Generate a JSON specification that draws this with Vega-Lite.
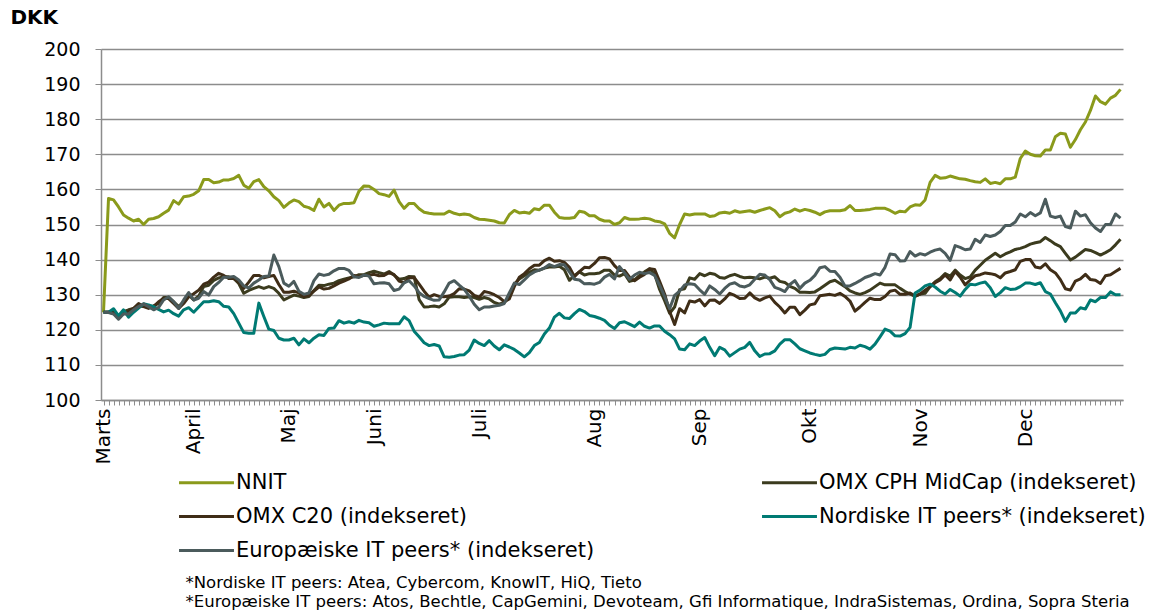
{
"$schema":"https://vega.github.io/schema/vega-lite/v6.json",
"width":1022,"height":351,
"autosize":{"type":"none"},
"padding":{"left":101,"top":49,"right":38,"bottom":212},
"background":"white",
"config":{"view":{"stroke":null},"font":"DejaVu Sans"},
"data":{"values":[
{"i":0,"a":125,"b":125,"c":125,"d":125,"e":125},
{"i":1,"a":157.4,"b":125,"c":125.1,"d":125,"e":124.9},
{"i":2,"a":157,"b":124.7,"c":125.2,"d":126,"e":124.5},
{"i":3,"a":155,"b":124,"c":123.8,"d":124,"e":123},
{"i":4,"a":152.7,"b":125.2,"c":124.7,"d":125.7,"e":124.5},
{"i":5,"a":151.8,"b":125.7,"c":125.2,"d":123.6,"e":124.5},
{"i":6,"a":151,"b":126.1,"c":126.1,"d":125,"e":125.7},
{"i":7,"a":151.5,"b":126.6,"c":127.5,"d":126.2,"e":126.6},
{"i":8,"a":150,"b":126.8,"c":126.6,"d":127.4,"e":127.4},
{"i":9,"a":151.5,"b":126.6,"c":126.1,"d":127.1,"e":126.6},
{"i":10,"a":151.7,"b":126.8,"c":126.6,"d":126.6,"e":125.7},
{"i":11,"a":152.2,"b":127.5,"c":128,"d":125.8,"e":126.4},
{"i":12,"a":153.2,"b":129.2,"c":128.9,"d":125.1,"e":128.5},
{"i":13,"a":154.1,"b":129.2,"c":128.9,"d":125.6,"e":129.4},
{"i":14,"a":156.8,"b":128,"c":127.5,"d":124.6,"e":128},
{"i":15,"a":155.8,"b":126.6,"c":126.1,"d":123.9,"e":126.1},
{"i":16,"a":157.9,"b":128,"c":127.5,"d":125.7,"e":128.5},
{"i":17,"a":158.1,"b":129.9,"c":129.4,"d":126.3,"e":130.6},
{"i":18,"a":158.6,"b":128.5,"c":130.3,"d":125,"e":128.5},
{"i":19,"a":159.6,"b":129.6,"c":131.3,"d":126.5,"e":129},
{"i":20,"a":162.8,"b":132.3,"c":133,"d":128,"e":130.9},
{"i":21,"a":162.8,"b":132.7,"c":133.6,"d":128,"e":129.9},
{"i":22,"a":161.9,"b":134.1,"c":135,"d":128.3,"e":132.3},
{"i":23,"a":162.1,"b":134.8,"c":136.1,"d":128,"e":133.5},
{"i":24,"a":162.7,"b":135.1,"c":135.5,"d":126.7,"e":135},
{"i":25,"a":162.7,"b":135.1,"c":134.6,"d":126.5,"e":135},
{"i":26,"a":163.1,"b":134.6,"c":134.6,"d":124.6,"e":135.2},
{"i":27,"a":164,"b":133.2,"c":133.6,"d":121.9,"e":134.2},
{"i":28,"a":161.2,"b":130.4,"c":131.8,"d":119.2,"e":132.5},
{"i":29,"a":160.3,"b":131.2,"c":133.6,"d":119,"e":131.9},
{"i":30,"a":162.2,"b":131.8,"c":135.5,"d":119,"e":133.3},
{"i":31,"a":162.8,"b":132.3,"c":135.5,"d":127.6,"e":134.2},
{"i":32,"a":160.8,"b":131.8,"c":134.8,"d":123.8,"e":135.2},
{"i":33,"a":159.6,"b":132.3,"c":135.2,"d":120.2,"e":135.3},
{"i":34,"a":157.9,"b":131.8,"c":135.5,"d":119.8,"e":141.3},
{"i":35,"a":156.8,"b":130.4,"c":132.9,"d":117.6,"e":138},
{"i":36,"a":154.9,"b":128.5,"c":130.7,"d":117.1,"e":133.3},
{"i":37,"a":156.1,"b":129.2,"c":130.7,"d":117.1,"e":132.4},
{"i":38,"a":157,"b":129.9,"c":131,"d":117.6,"e":133.8},
{"i":39,"a":156.5,"b":129.6,"c":130.5,"d":115.7,"e":131},
{"i":40,"a":155.2,"b":129.2,"c":129.5,"d":117.4,"e":130.1},
{"i":41,"a":154.8,"b":129.5,"c":129.8,"d":116.3,"e":130.5},
{"i":42,"a":154,"b":131.2,"c":131,"d":117.6,"e":134},
{"i":43,"a":157.2,"b":132.7,"c":132.2,"d":118.6,"e":135.9},
{"i":44,"a":155,"b":132.6,"c":131.6,"d":118.4,"e":135.5},
{"i":45,"a":156,"b":133,"c":131.8,"d":120.4,"e":135.8},
{"i":46,"a":154,"b":133.3,"c":132.5,"d":120.5,"e":136.8},
{"i":47,"a":155.5,"b":134,"c":133.3,"d":122.6,"e":137.5},
{"i":48,"a":156,"b":134.4,"c":133.9,"d":121.9,"e":137.5},
{"i":49,"a":156,"b":134.8,"c":134.5,"d":122.3,"e":136.9},
{"i":50,"a":156.2,"b":135.1,"c":135.5,"d":121.9,"e":135.1},
{"i":51,"a":159.5,"b":135.7,"c":135.2,"d":122.7,"e":134.9},
{"i":52,"a":161,"b":135.7,"c":135.5,"d":122.2,"e":135.6},
{"i":53,"a":160.9,"b":136.3,"c":135.5,"d":122,"e":135.3},
{"i":54,"a":160,"b":136.7,"c":135.8,"d":121,"e":133.1},
{"i":55,"a":158.8,"b":136.3,"c":135.4,"d":121.4,"e":133.3},
{"i":56,"a":158.5,"b":135.9,"c":135.5,"d":121.9,"e":133.4},
{"i":57,"a":158,"b":136.6,"c":136.3,"d":121.7,"e":133.1},
{"i":58,"a":159.8,"b":135.6,"c":135.7,"d":121.7,"e":131.2},
{"i":59,"a":156.5,"b":134.4,"c":133.9,"d":121.7,"e":131.6},
{"i":60,"a":154.6,"b":134.6,"c":133.4,"d":123.7,"e":133.4},
{"i":61,"a":156,"b":135.2,"c":134.8,"d":122.6,"e":134},
{"i":62,"a":156,"b":135.1,"c":134.9,"d":119.6,"e":132.5},
{"i":63,"a":154.5,"b":128.6,"c":133,"d":118,"e":130.6},
{"i":64,"a":153.5,"b":126.5,"c":131,"d":116.3,"e":129.5},
{"i":65,"a":153.2,"b":126.6,"c":129.3,"d":115.5,"e":128.9},
{"i":66,"a":153,"b":126.8,"c":130,"d":115.8,"e":128.4},
{"i":67,"a":153,"b":126.5,"c":129.5,"d":115.4,"e":128.5},
{"i":68,"a":153,"b":127.4,"c":129.4,"d":112.3,"e":130.8},
{"i":69,"a":153.8,"b":129.3,"c":129.6,"d":112.2,"e":133.3},
{"i":70,"a":153.2,"b":129.4,"c":130.3,"d":112.4,"e":134},
{"i":71,"a":152.8,"b":129.4,"c":131.7,"d":112.8,"e":132.7},
{"i":72,"a":153,"b":129.2,"c":131.6,"d":112.9,"e":131.5},
{"i":73,"a":152.8,"b":129.4,"c":131.1,"d":114.2,"e":129.6},
{"i":74,"a":152,"b":129.2,"c":129.8,"d":117.1,"e":127.3},
{"i":75,"a":151.5,"b":128.7,"c":129.3,"d":116.1,"e":125.7},
{"i":76,"a":151.4,"b":129.2,"c":130.9,"d":115.5,"e":126.5},
{"i":77,"a":151.2,"b":128.8,"c":130.6,"d":116.9,"e":126.5},
{"i":78,"a":151,"b":127.8,"c":130,"d":115.4,"e":126.8},
{"i":79,"a":150.5,"b":127.3,"c":129.2,"d":114.3,"e":127},
{"i":80,"a":150.4,"b":127.8,"c":128,"d":115.7,"e":127.5},
{"i":81,"a":152.8,"b":129.4,"c":128.8,"d":115.1,"e":130.5},
{"i":82,"a":154,"b":133,"c":132.3,"d":114.4,"e":133.3},
{"i":83,"a":153.3,"b":134.5,"c":135,"d":113.4,"e":132.9},
{"i":84,"a":153.5,"b":135.4,"c":136,"d":112.3,"e":134.2},
{"i":85,"a":153.2,"b":136.4,"c":137.4,"d":113.5,"e":135.6},
{"i":86,"a":154.5,"b":137.1,"c":138.4,"d":115.5,"e":136.5},
{"i":87,"a":154.2,"b":137,"c":138.4,"d":116.4,"e":137},
{"i":88,"a":155.5,"b":137.6,"c":139.7,"d":118.8,"e":137.6},
{"i":89,"a":155.5,"b":137.9,"c":140.4,"d":120.5,"e":138.6},
{"i":90,"a":153.5,"b":137.9,"c":139.5,"d":123.6,"e":138},
{"i":91,"a":152,"b":138.1,"c":139.7,"d":124.7,"e":138.6},
{"i":92,"a":151.8,"b":137.1,"c":139.2,"d":123.4,"e":138.5},
{"i":93,"a":151.8,"b":134.1,"c":137.8,"d":123.2,"e":136.5},
{"i":94,"a":152,"b":135.5,"c":135.1,"d":124.6,"e":134.4},
{"i":95,"a":153.8,"b":136.5,"c":136.6,"d":125.8,"e":134.2},
{"i":96,"a":153.5,"b":135.6,"c":137.8,"d":125.2,"e":133.1},
{"i":97,"a":152.5,"b":136,"c":137.7,"d":124.1,"e":133.2},
{"i":98,"a":152.5,"b":136,"c":138.9,"d":123.8,"e":133},
{"i":99,"a":151.5,"b":136.2,"c":140.5,"d":123.3,"e":133.5},
{"i":100,"a":151,"b":137,"c":140.6,"d":122.7,"e":135},
{"i":101,"a":151,"b":137,"c":140.2,"d":121.3,"e":135.8},
{"i":102,"a":150,"b":135.6,"c":138.3,"d":120.4,"e":134.5},
{"i":103,"a":150.5,"b":135.3,"c":136.9,"d":122,"e":138},
{"i":104,"a":152,"b":136,"c":136.9,"d":122.3,"e":136.2},
{"i":105,"a":151.5,"b":133.8,"c":135,"d":121.6,"e":134.4},
{"i":106,"a":151.5,"b":134.2,"c":134,"d":120.9,"e":135.6},
{"i":107,"a":151.6,"b":135.5,"c":135,"d":122.2,"e":136.4},
{"i":108,"a":151.8,"b":136.5,"c":135.8,"d":121,"e":136},
{"i":109,"a":151.6,"b":137.4,"c":137.4,"d":120.5,"e":136.3},
{"i":110,"a":151,"b":135.9,"c":137.2,"d":121.1,"e":135.5},
{"i":111,"a":150.8,"b":131.5,"c":133.8,"d":121.1,"e":132.7},
{"i":112,"a":150.2,"b":128.3,"c":130.2,"d":119.6,"e":129.5},
{"i":113,"a":147.5,"b":124.7,"c":125.2,"d":118.6,"e":126},
{"i":114,"a":146.2,"b":126.5,"c":121.5,"d":117.4,"e":129.8},
{"i":115,"a":150,"b":131.4,"c":126,"d":114.5,"e":131},
{"i":116,"a":153,"b":131.7,"c":124.8,"d":114.3,"e":132.8},
{"i":117,"a":152.7,"b":134.8,"c":128.2,"d":116,"e":133.1},
{"i":118,"a":153,"b":134.4,"c":127.9,"d":115.5,"e":132.9},
{"i":119,"a":153,"b":136,"c":128.6,"d":116.8,"e":131.4},
{"i":120,"a":153,"b":135.4,"c":126.8,"d":117.8,"e":130.1},
{"i":121,"a":152.3,"b":136.1,"c":128.4,"d":115,"e":132.5},
{"i":122,"a":152.5,"b":135.8,"c":128.5,"d":112.6,"e":131.5},
{"i":123,"a":153.3,"b":134.9,"c":127.5,"d":115,"e":130.2},
{"i":124,"a":153.5,"b":134.7,"c":128.8,"d":114.3,"e":131.8},
{"i":125,"a":153.2,"b":135.4,"c":130.4,"d":112.5,"e":133},
{"i":126,"a":153.9,"b":135.8,"c":129.8,"d":113.5,"e":133.4},
{"i":127,"a":153.5,"b":135.2,"c":128.9,"d":114.5,"e":132.5},
{"i":128,"a":153.7,"b":134.8,"c":129,"d":115,"e":132.2},
{"i":129,"a":153.9,"b":135,"c":130.5,"d":116.4,"e":132.8},
{"i":130,"a":153.5,"b":134.8,"c":129.1,"d":114,"e":134.4},
{"i":131,"a":154,"b":134.5,"c":128.4,"d":112.4,"e":135.8},
{"i":132,"a":154.4,"b":135,"c":129.1,"d":113.1,"e":135.6},
{"i":133,"a":154.8,"b":134.7,"c":129.6,"d":113.2,"e":134.3},
{"i":134,"a":153.9,"b":135.1,"c":127.8,"d":114,"e":132.1},
{"i":135,"a":152.2,"b":133.8,"c":126.5,"d":115.9,"e":131.6},
{"i":136,"a":153.2,"b":133.5,"c":124.8,"d":117.2,"e":130.9},
{"i":137,"a":153.6,"b":132.4,"c":126.4,"d":117.2,"e":132.9},
{"i":138,"a":154.4,"b":131.8,"c":126.4,"d":116,"e":134},
{"i":139,"a":153.8,"b":130.7,"c":124.3,"d":114.6,"e":131.8},
{"i":140,"a":154.3,"b":130.7,"c":125.6,"d":114,"e":133.3},
{"i":141,"a":154,"b":130.6,"c":127.1,"d":113.4,"e":134.1},
{"i":142,"a":153.5,"b":130.8,"c":127.4,"d":113,"e":135.5},
{"i":143,"a":152.8,"b":131.7,"c":129.7,"d":112.7,"e":137.7},
{"i":144,"a":153.6,"b":132.7,"c":129.9,"d":113,"e":138},
{"i":145,"a":153.9,"b":133.7,"c":130.1,"d":114.4,"e":136.7},
{"i":146,"a":153.9,"b":134.1,"c":129.8,"d":114.8,"e":136.6},
{"i":147,"a":153.9,"b":133.2,"c":130.4,"d":114.7,"e":135},
{"i":148,"a":154.2,"b":132.3,"c":129.5,"d":114.5,"e":132.5},
{"i":149,"a":155.4,"b":131.1,"c":128.2,"d":115,"e":132.5},
{"i":150,"a":154,"b":130.5,"c":125.3,"d":114.8,"e":133.2},
{"i":151,"a":154,"b":130.1,"c":126.5,"d":115.6,"e":134},
{"i":152,"a":154.1,"b":130.6,"c":127.8,"d":115.2,"e":134.9},
{"i":153,"a":154.3,"b":131.3,"c":129,"d":114.5,"e":135.4},
{"i":154,"a":154.6,"b":132.3,"c":128.6,"d":115.9,"e":136},
{"i":155,"a":154.6,"b":133.3,"c":128.6,"d":118,"e":135.6},
{"i":156,"a":154.6,"b":132.8,"c":129.5,"d":120.2,"e":137.8},
{"i":157,"a":154,"b":132.8,"c":131,"d":119.6,"e":141.6},
{"i":158,"a":153.2,"b":132.8,"c":131.3,"d":118.3,"e":141.4},
{"i":159,"a":153.8,"b":131.8,"c":130.1,"d":118.2,"e":139.6},
{"i":160,"a":153.6,"b":130.9,"c":130.1,"d":118.9,"e":139.7},
{"i":161,"a":155,"b":130.2,"c":130.5,"d":120.7,"e":142.3},
{"i":162,"a":155.6,"b":129.5,"c":129.6,"d":130.5,"e":141},
{"i":163,"a":155.5,"b":130.2,"c":130.2,"d":131.3,"e":141.7},
{"i":164,"a":157,"b":130.4,"c":131.3,"d":132.5,"e":141.3},
{"i":165,"a":162,"b":132.3,"c":132.3,"d":133,"e":142.1},
{"i":166,"a":164,"b":133.7,"c":133.4,"d":132.2,"e":142.7},
{"i":167,"a":163.2,"b":134.6,"c":134.2,"d":131,"e":143},
{"i":168,"a":163.3,"b":136,"c":135.6,"d":130.2,"e":141.8},
{"i":169,"a":163.8,"b":135.3,"c":134.2,"d":131.5,"e":139.8},
{"i":170,"a":163.4,"b":137,"c":136.6,"d":130.6,"e":144},
{"i":171,"a":163,"b":135.6,"c":135,"d":129.6,"e":143.5},
{"i":172,"a":162.9,"b":134.6,"c":132.8,"d":131.5,"e":142.8},
{"i":173,"a":162.5,"b":135.1,"c":134.2,"d":133,"e":143},
{"i":174,"a":162.2,"b":137,"c":135.4,"d":132.8,"e":145.8},
{"i":175,"a":162,"b":138.4,"c":135.7,"d":133.3,"e":144.9},
{"i":176,"a":163,"b":139.8,"c":136.2,"d":133.6,"e":147},
{"i":177,"a":161.7,"b":140.8,"c":136,"d":132,"e":146.6},
{"i":178,"a":162,"b":141.8,"c":135.7,"d":129.5,"e":147},
{"i":179,"a":161.6,"b":140.8,"c":134.8,"d":130.6,"e":148},
{"i":180,"a":163,"b":141.6,"c":136.2,"d":132,"e":149.7},
{"i":181,"a":163,"b":142.2,"c":136.6,"d":131.5,"e":149.7},
{"i":182,"a":163.5,"b":142.9,"c":137.1,"d":131.6,"e":150.7},
{"i":183,"a":168.8,"b":143.2,"c":139.5,"d":132.3,"e":153},
{"i":184,"a":170.9,"b":143.7,"c":140,"d":133.3,"e":152.2},
{"i":185,"a":170,"b":144.4,"c":140,"d":133.3,"e":153.4},
{"i":186,"a":169.6,"b":144.8,"c":137.9,"d":132.9,"e":152.5},
{"i":187,"a":169.5,"b":145.1,"c":137.6,"d":133.4,"e":153.3},
{"i":188,"a":171.2,"b":146.3,"c":138.8,"d":130.9,"e":157.2},
{"i":189,"a":171.2,"b":145.4,"c":137.1,"d":130.2,"e":152.4},
{"i":190,"a":175,"b":144.4,"c":136.2,"d":127.7,"e":152},
{"i":191,"a":176,"b":143.7,"c":134.3,"d":125.4,"e":152.4},
{"i":192,"a":175.8,"b":141.8,"c":131.7,"d":122.4,"e":149.4},
{"i":193,"a":172,"b":139.9,"c":131.3,"d":124.8,"e":149},
{"i":194,"a":174.2,"b":140.7,"c":133.9,"d":124.8,"e":153.8},
{"i":195,"a":177,"b":141.8,"c":134.5,"d":126.3,"e":152.4},
{"i":196,"a":179.2,"b":142.9,"c":135.8,"d":125.9,"e":152.8},
{"i":197,"a":182.5,"b":142.6,"c":134.3,"d":128.5,"e":150.5},
{"i":198,"a":186.6,"b":142,"c":134.1,"d":128,"e":149},
{"i":199,"a":185,"b":141.3,"c":133.2,"d":129.2,"e":148},
{"i":200,"a":184.3,"b":142,"c":135.4,"d":129.2,"e":150},
{"i":201,"a":186,"b":142.8,"c":135.7,"d":130.8,"e":150},
{"i":202,"a":186.8,"b":144.2,"c":136.6,"d":130,"e":153},
{"i":203,"a":188.5,"b":145.8,"c":137.5,"d":130,"e":151.8}
]},
"transform":[{"fold":["a","b","c","d","e"],"as":["s","v"]}],
"mark":{"type":"line","strokeWidth":3,"strokeJoin":"round"},
"encoding":{
"x":{"field":"i","type":"ordinal","sort":"ascending","scale":{"type":"point","padding":0.5},
 "axis":{"title":["*Nordiske IT peers: Atea, Cybercom, KnowIT, HiQ, Tieto","*Europæiske IT peers: Atos, Bechtle, CapGemini, Devoteam,  Gfi Informatique, IndraSistemas, Ordina, Sopra Steria"],
  "titleX":84,"titleY":174,"titleAlign":"left","titleAnchor":"start","titleBaseline":"top","titleFontSize":16.5,"titleFontWeight":"normal","titleColor":"black","titleLineHeight":19,
  "labelAngle":-90,"labelAlign":"right","labelBaseline":"middle","labelPadding":3,"labelFontSize":20,"labelColor":"black","labelOverlap":false,"labelBound":false,"labelFlush":false,
  "labelExpr":"datum.value==0?'Marts':datum.value==18?'April':datum.value==37?'Maj':datum.value==54?'Juni':datum.value==75?'Juli':datum.value==98?'Aug':datum.value==119?'Sep':datum.value==141?'Okt':datum.value==163?'Nov':datum.value==184?'Dec':''",
  "tickSize":5,"tickColor":"#8c8c8c","tickWidth":1,"domainColor":"#8c8c8c","domainWidth":1.5,"grid":false}},
"y":{"field":"v","type":"quantitative","scale":{"domain":[100,200],"nice":false,"zero":false},
 "axis":{"values":[100,110,120,130,140,150,160,170,180,190,200],"title":"DKK","titleAngle":0,"titleX":-91,"titleY":-26,"titleAlign":"left","titleBaseline":"alphabetic","titleFontSize":20,"titleFontWeight":"bold","titleColor":"black",
  "labelFontSize":19,"labelColor":"black","labelPadding":15,"tickSize":6,"tickColor":"#8c8c8c","domainColor":"#8c8c8c","domainWidth":1.5,"grid":true,"gridColor":"#8c8c8c","gridWidth":1.5}},
"color":{"field":"s","type":"nominal","scale":{"domain":["a","b","c","d","e"],"range":["#8a9a1b","#3b3b1e","#3f2d17","#007a73","#4b5b5c"]},
 "legend":{"orient":"none","legendX":84,"legendY":412,"columns":2,"direction":"horizontal","title":null,"symbolType":"M-1.4,0H1.4","symbolSize":1540,"symbolStrokeWidth":3,"symbolFillColor":"transparent","labelFontSize":21,"labelColor":"black","labelLimit":600,"labelOffset":8,"columnPadding":161,"rowPadding":2,
  "labelExpr":"datum.label=='a'?'NNIT':datum.label=='b'?'OMX CPH MidCap (indekseret)':datum.label=='c'?'OMX C20 (indekseret)':datum.label=='d'?'Nordiske IT peers* (indekseret)':'Europæiske IT peers* (indekseret)'"}}
}
}
